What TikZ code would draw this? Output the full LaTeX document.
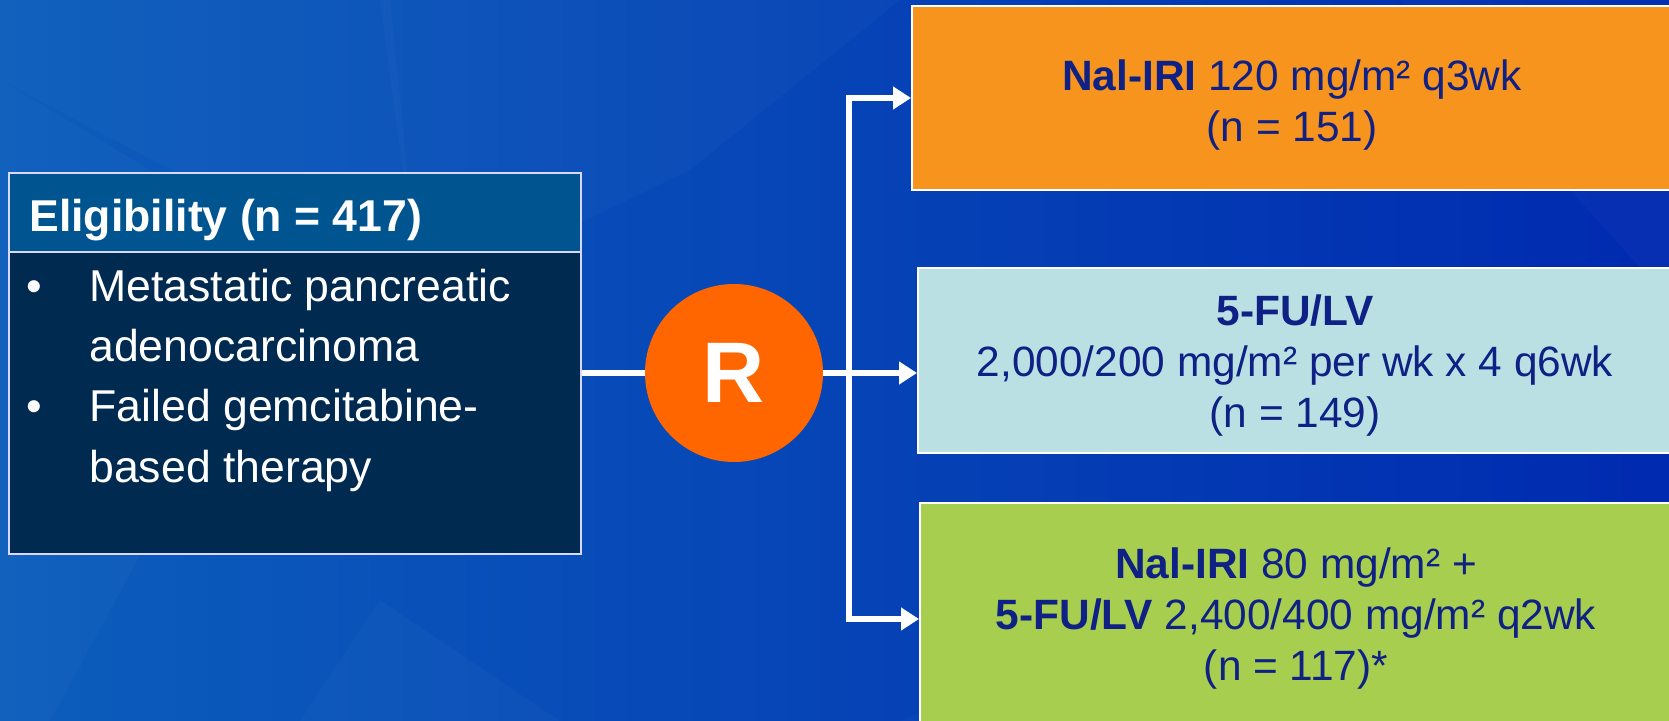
\documentclass[tikz,border=0pt]{standalone}
\usepackage{fontspec}
\setmainfont{Liberation Sans}
\usetikzlibrary{arrows.meta,calc}
\definecolor{bgL}{HTML}{0C5EBC}
\definecolor{bgM}{HTML}{0050BE}
\definecolor{bgR}{HTML}{002AB0}
\definecolor{hdrblue}{HTML}{00548F}
\definecolor{bodyblue}{HTML}{002A50}
\definecolor{rorange}{HTML}{FF6600}
\definecolor{armorange}{HTML}{F7941E}
\definecolor{armblue}{HTML}{BBE0E3}
\definecolor{armgreen}{HTML}{A7CE4F}
\definecolor{navy}{HTML}{0F2185}
\tikzset{
  armbox/.style={draw=white, line width=1pt, inner sep=0pt},
  armtxt/.style={inner sep=0pt, align=center, text=navy,
    font=\fontsize{21.2}{25.5}\selectfont},
  eligbox/.style={draw=white!85!blue, line width=1pt, inner sep=0pt, anchor=north west},
  eligtxt/.style={anchor=base west, inner sep=0pt, text=white, font=\fontsize{22.3}{26}\selectfont},
  wline/.style={draw=white, line width=2.6pt},
  warrow/.style={wline, line join=miter, -{Triangle[length=9pt,width=11pt]}},
  facet/.style={fill=white, fill opacity=0.025, draw=none}
}
\begin{document}
\begin{tikzpicture}[x=0.5pt,y=-0.5pt]
\useasboundingbox (0,0) rectangle (1669,721);
% background
\shade[left color=bgL, middle color=bgM, right color=bgR] (0,0) rectangle (1669,721);
\fill[facet] (0,0) -- (390,0) -- (420,300) -- (0,80) -- cycle;
\fill[facet] (380,0) -- (560,0) -- (690,170) -- (420,300) -- cycle;
\fill[facet] (560,0) -- (900,0) -- (690,170) -- cycle;
\fill[facet] (0,80) -- (300,260) -- (50,721) -- (0,721) -- cycle;
\fill[facet] (300,721) -- (380,600) -- (560,721) -- cycle;
\fill[facet] (900,721) -- (1300,560) -- (1669,600) -- (1669,721) -- cycle;
\fill[facet] (1400,0) -- (1669,0) -- (1669,300) -- cycle;
% eligibility box
\node[eligbox, fill=hdrblue, minimum width=286pt, minimum height=39.5pt] (hdr) at (8,172) {};
\node[eligbox, fill=bodyblue, minimum width=286pt, minimum height=151pt] (body) at (8,251) {};
\node[eligtxt, font=\fontsize{22.3}{26}\selectfont\bfseries] (hdrtxt) at (29,232) {Eligibility (n = 417)};
\node[eligtxt] (b1) at (26,302) {•};
\node[eligtxt] (l1) at (89,302) {Metastatic pancreatic};
\node[eligtxt] (l2) at (89,362) {adenocarcinoma};
\node[eligtxt] (b2) at (26,422) {•};
\node[eligtxt] (l3) at (89,422) {Failed gemcitabine-};
\node[eligtxt] (l4) at (89,482) {based therapy};
% randomisation
\node[circle, fill=rorange, minimum size=89pt, inner sep=0pt, text=white,
  font=\fontsize{43}{43}\selectfont\bfseries] (R) at (734,373) {\raisebox{-1.5pt}{R}};
% arms
\node[armbox, fill=armorange, minimum width=380pt, minimum height=92pt] (arm1) at (1292,98) {};
\node[armbox, fill=armblue, minimum width=377pt, minimum height=92.5pt] (arm2) at (1295,360.5) {};
\node[armbox, fill=armgreen, minimum width=376pt, minimum height=116pt] (arm3) at (1296,619) {};
\node[armtxt] (arm1txt) at (1292,105) {{\bfseries Nal-IRI} 120 mg/m² q3wk\\(n = 151)};
\node[armtxt] (arm2txt) at (1295,366) {{\bfseries 5-FU/LV}\\2,000/200 mg/m² per wk x 4 q6wk\\(n = 149)};
\node[armtxt] (arm3txt) at (1296,619) {{\bfseries Nal-IRI} 80 mg/m² +\\{\bfseries 5-FU/LV} 2,400/400 mg/m² q2wk\\(n = 117)*};
% connectors
\coordinate (J) at (849,373);
\draw[wline] (R.west -| body.east) -- (R.west);
\draw[wline] (R.east) -- (J);
\draw[warrow] (J) |- (arm1.west);
\draw[warrow] (J) |- (arm3.west);
\draw[warrow] (J) -- (J -| arm2.west);
\end{tikzpicture}
\end{document}
